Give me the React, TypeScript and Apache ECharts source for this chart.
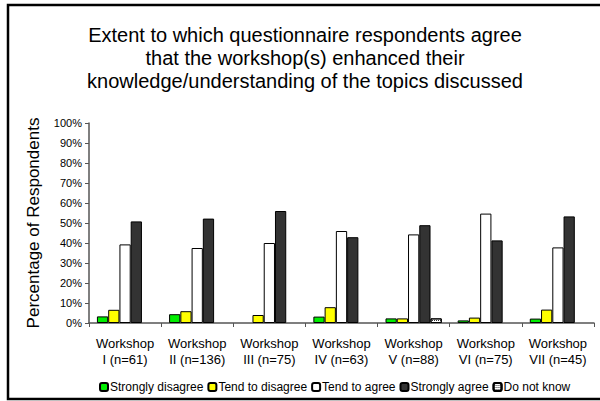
import React, { useEffect, useRef } from "react";
import * as echarts from "echarts";

const categories = [
  "Workshop\nI (n=61)",
  "Workshop\nII (n=136)",
  "Workshop\nIII (n=75)",
  "Workshop\nIV (n=63)",
  "Workshop\nV (n=88)",
  "Workshop\nVI (n=75)",
  "Workshop\nVII (n=45)",
];
const stronglyDisagree = [3.3, 4.4, 0, 3.2, 2.3, 1.3, 2.2];
const tendToDisagree = [6.6, 5.9, 4.0, 7.9, 2.3, 2.7, 6.7];
const tendToAgree = [39.3, 37.5, 40.0, 46.0, 44.3, 54.7, 37.8];
const stronglyAgree = [50.8, 52.2, 56.0, 42.9, 48.9, 41.3, 53.3];
const doNotKnow = [0, 0, 0, 0, 2.3, 0, 0];
const yTicks = [0, 10, 20, 30, 40, 50, 60, 70, 80, 90, 100];

const FONT = "'Liberation Sans', Arial, sans-serif";

export default function App() {
  const ref = useRef<HTMLDivElement>(null);
  useEffect(() => {
    document.body.style.margin = "0";
    const chart = echarts.init(ref.current!, null, { renderer: "svg" });
    const mk = (name: string, data: number[], color: string, extra: any = {}) => ({
      name,
      type: "bar",
      data: data.map((v) => (v === 0 ? "-" : v)),
      barGap: "0%",
      barCategoryGap: "22%",
      itemStyle: { color, borderColor: "#000", borderWidth: 1, ...extra },
      emphasis: { disabled: true },
    });
    chart.setOption({
      animation: false,
      textStyle: { fontFamily: FONT },
      title: {
        text:
          "Extent to which questionnaire respondents agree\nthat the workshop(s) enhanced their\nknowledge/understanding of the topics discussed",
        left: 305,
        top: 23,
        padding: 0,
        textAlign: "center",
        textStyle: {
          fontFamily: FONT,
          fontSize: 20,
          fontWeight: "normal",
          lineHeight: 23,
          color: "#000",
        },
      },
      graphic: [
        {
          type: "rect",
          shape: { x: 8, y: 5, width: 600, height: 394 },
          style: { fill: "none", stroke: "#000", lineWidth: 2.5 },
          silent: true,
        },
      ],
      legend: {
        bottom: 8,
        left: 99,
        padding: 0,
        itemWidth: 8,
        itemHeight: 8,
        itemGap: 4,
        textStyle: { fontFamily: FONT, fontSize: 12, color: "#000", padding: [0, 0, 0, -3] },
        data: ["Strongly disagree", "Tend to disagree", "Tend to agree", "Strongly agree", "Do not know"],
      },
      grid: { left: 89, right: 6, top: 123, bottom: 78, containLabel: false },
      xAxis: {
        type: "category",
        data: categories,
        axisLine: { lineStyle: { color: "#555", width: 1.5 } },
        axisTick: { show: true, length: 4, lineStyle: { color: "#555" } },
        axisLabel: {
          fontFamily: FONT,
          fontSize: 13,
          lineHeight: 16.5,
          color: "#000",
          margin: 12,
          interval: 0,
        },
      },
      yAxis: {
        type: "value",
        min: 0,
        max: 100,
        interval: 10,
        name: "Percentage of Respondents",
        nameLocation: "middle",
        nameGap: 47,
        nameTextStyle: { fontFamily: FONT, fontSize: 17, color: "#000" },
        axisLine: { show: true, lineStyle: { color: "#555", width: 1.5 } },
        axisTick: { show: true, length: 4, lineStyle: { color: "#555" } },
        splitLine: { show: false },
        axisLabel: {
          fontFamily: FONT,
          fontSize: 11,
          color: "#000",
          margin: 7,
          formatter: (v: number) => (yTicks.includes(v) ? v + "%" : ""),
        },
      },
      series: [
        mk("Strongly disagree", stronglyDisagree, "#00ee00"),
        mk("Tend to disagree", tendToDisagree, "#ffff00"),
        mk("Tend to agree", tendToAgree, "#ffffff"),
        mk("Strongly agree", stronglyAgree, "#333333"),
        mk("Do not know", doNotKnow, "#ffffff", {
          decal: {
            symbol: "rect",
            symbolSize: 1,
            color: "#333",
            dashArrayX: [1, 1],
            dashArrayY: [1, 1],
            rotation: 0,
          },
        }),
      ],
    });
    return () => chart.dispose();
  }, []);
  return <div ref={ref} style={{ width: 600, height: 401, position: "absolute", left: 0, top: 0 }} />;
}
